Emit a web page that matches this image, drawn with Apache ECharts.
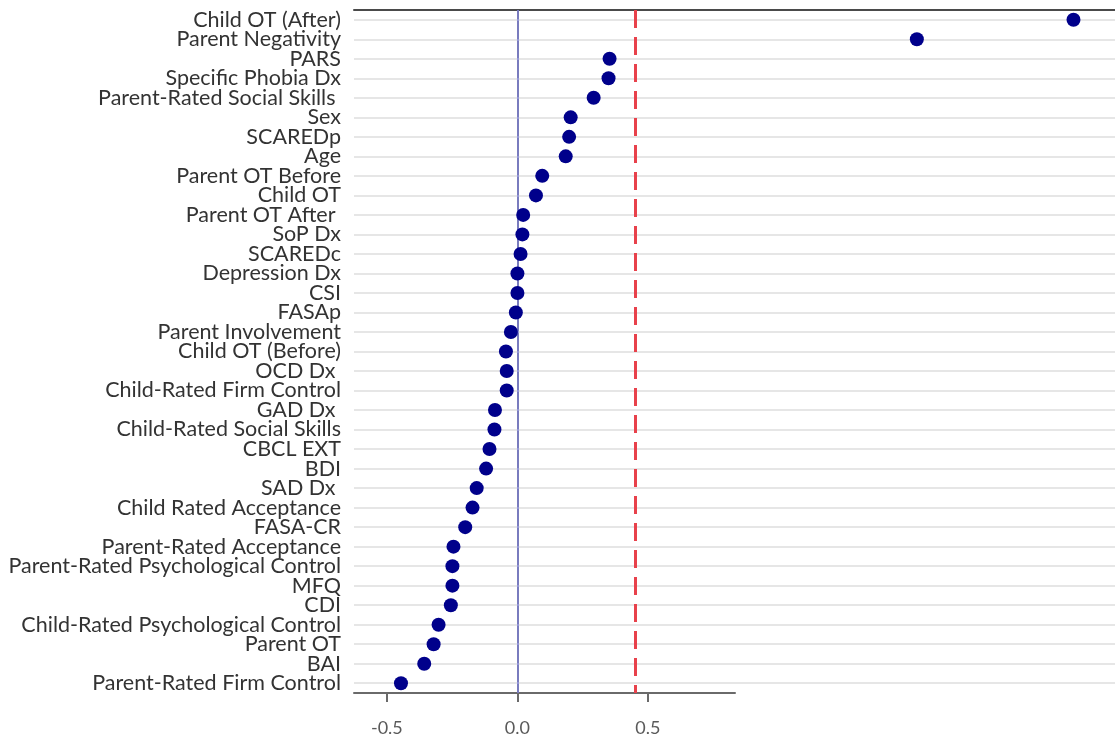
<!DOCTYPE html>
<html>
<head>
<meta charset="utf-8">
<script src="https://cdn.jsdelivr.net/npm/echarts@6/dist/echarts.min.js"></script>
<style>
html,body{margin:0;padding:0;background:#fff;}
#chart{width:1115px;height:742px;}
</style>
</head>
<body>
<div id="chart"></div>
<script>
// ---- data ----
const categories = [
  "Child OT (After)", "Parent Negativity", "PARS", "Specific Phobia Dx",
  "Parent-Rated Social Skills ", "Sex", "SCAREDp", "Age", "Parent OT Before",
  "Child OT", "Parent OT After ", "SoP Dx", "SCAREDc", "Depression Dx", "CSI",
  "FASAp", "Parent Involvement", "Child OT (Before)", "OCD Dx ",
  "Child-Rated Firm Control", "GAD Dx ", "Child-Rated Social Skills",
  "CBCL EXT", "BDI", "SAD Dx ", "Child Rated Acceptance", "FASA-CR",
  "Parent-Rated Acceptance", "Parent-Rated Psychological Control", "MFQ", "CDI",
  "Child-Rated Psychological Control", "Parent OT", "BAI", "Parent-Rated Firm Control"
];
const values = [
  2.13, 1.53, 0.353, 0.349, 0.292, 0.204, 0.198, 0.185, 0.095, 0.071, 0.022,
  0.019, 0.012, 0.0, 0.0, -0.006, -0.025, -0.044, -0.041, -0.041, -0.086,
  -0.088, -0.107, -0.12, -0.156, -0.172, -0.2, -0.245, -0.249, -0.249, -0.255,
  -0.302, -0.321, -0.357, -0.446
];
const xTicks = [-0.5, 0.0, 0.5];
const zeroLine = 0;
const thresholdLine = 0.45;
const xMin = -0.626, xMax = 2.289, xAxisVisibleMax = 0.834;

// ---- chart ----
const chart = echarts.init(document.getElementById('chart'), null, {renderer: 'canvas'});
const font = 'Lato, "Open Sans", sans-serif';

const option = {
  animation: false,
  backgroundColor: '#fff',
  grid: [
    {left: 354, right: 0, top: 10, bottom: 49},
    {left: 354, width: 381, top: 10, bottom: 49}
  ],
  xAxis: [
    {
      gridIndex: 0, type: 'value', min: xMin, max: xMax, position: 'top',
      axisLine: {show: true, onZero: false, lineStyle: {color: '#4a4a4a', width: 2}},
      axisTick: {show: false}, axisLabel: {show: false}, splitLine: {show: false}
    },
    {
      gridIndex: 1, type: 'value', min: xMin, max: xAxisVisibleMax, position: 'bottom',
      axisLine: {show: true, onZero: false, lineStyle: {color: '#6a6a6a', width: 2}},
      axisTick: {show: true, length: 9, customValues: xTicks, lineStyle: {color: '#6a6a6a', width: 2}},
      axisLabel: {
        show: true, customValues: xTicks, margin: 26,
        color: '#5a5a5a', fontSize: 18, fontFamily: font,
        formatter: v => v.toFixed(1)
      },
      splitLine: {show: false}
    }
  ],
  yAxis: [
    {
      gridIndex: 0, type: 'category', data: categories, inverse: true, boundaryGap: true,
      axisLine: {show: true, lineStyle: {color: '#707070', width: 2}},
      axisTick: {show: false},
      axisLabel: {color: '#333', fontSize: 21.5, fontFamily: font, margin: 13, interval: 0},
      splitLine: {show: false}
    },
    {gridIndex: 1, type: 'value', show: false, min: 0, max: 1}
  ],
  series: [
    {
      name: 'rows', type: 'scatter', xAxisIndex: 0, yAxisIndex: 0, data: [], z: 1,
      markLine: {
        silent: true, symbol: ['none', 'none'], label: {show: false},
        lineStyle: {color: '#e6e6e6', width: 2, type: 'solid'},
        data: categories.map((c, i) => ({yAxis: i}))
      }
    },
    {
      name: 'refs', type: 'scatter', xAxisIndex: 0, yAxisIndex: 0, data: [], z: 2,
      markLine: {
        silent: true, symbol: ['none', 'none'], label: {show: false},
        data: [
          {xAxis: zeroLine, lineStyle: {color: '#7c7fd2', width: 1.6, type: 'solid'}},
          {xAxis: thresholdLine, lineStyle: {color: '#e8414b', width: 3, type: [18, 9]}}
        ]
      }
    },
    {
      name: 'effect', type: 'scatter', xAxisIndex: 0, yAxisIndex: 0, z: 5,
      symbol: 'circle', symbolSize: 14,
      itemStyle: {color: '#00008b', opacity: 1},
      data: values.map((v, i) => [v, categories[i]])
    }
  ]
};
chart.setOption(option);
</script>
</body>
</html>
